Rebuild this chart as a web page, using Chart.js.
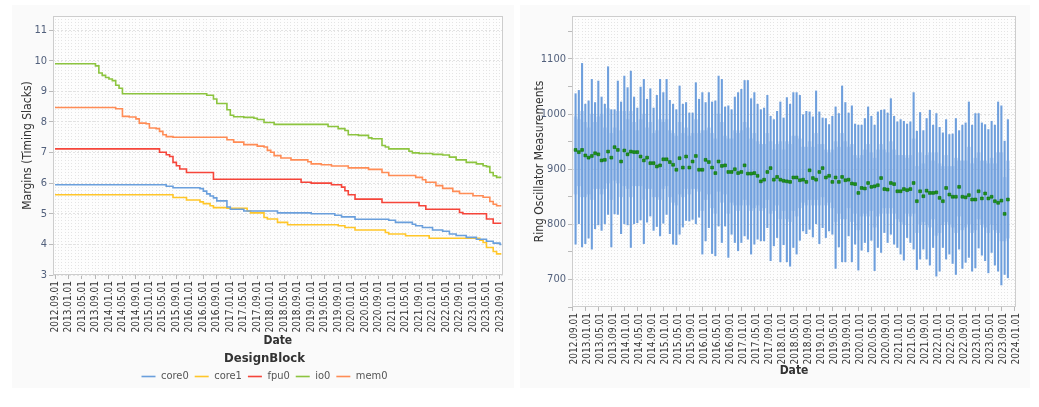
<!DOCTYPE html>
<html>
<head>
<meta charset="utf-8">
<script src="https://cdn.jsdelivr.net/npm/chart.js@4.4.1/dist/chart.umd.min.js"></script>
<style>
  body { margin: 0; background: #fff; width: 1039px; height: 407px; overflow: hidden; }
  .panel { position: absolute; top: 5px; height: 383px; background: #fafafa; }
  #left { left: 12px; width: 502px; }
  #right { left: 520px; width: 510px; }
  canvas { display: block; }
</style>
</head>
<body>
<div class="panel" id="left"><canvas id="margins" width="502" height="383"></canvas></div>
<div class="panel" id="right"><canvas id="ring" width="510" height="383"></canvas></div>
<script>
const FONT = "'DejaVu Sans Condensed', 'DejaVu Sans', sans-serif";

// months are counted from 2012.09
const START_YEAR = 2012, START_MONTH = 9;

const blocks = ['core0', 'core1', 'fpu0', 'io0', 'mem0'];
const blockColors = ['#6a9fdc', '#ffc629', '#f5453a', '#8cc43f', '#ff8c55'];

// step changes: [month, margin]
const core0Steps = [[0,5.95],[33,5.9],[35,5.85],[43,5.82],[44,5.74],[45,5.65],[46,5.58],[47,5.52],[48,5.42],
  [51,5.22],[52,5.15],[56,5.09],[66,5.03],[76,5.0],[83,4.95],[85,4.9],[89,4.82],[99,4.79],[101,4.72],
  [106,4.66],[107,4.61],[109,4.55],[112,4.47],[115,4.43],[117,4.34],[119,4.29],[122,4.23],[125,4.17],
  [128,4.1],[130,4.04],[132,4.0]];
const core1Steps = [[0,5.62],[35,5.53],[39,5.45],[43,5.39],[44,5.33],[46,5.26],[47,5.2],[51,5.18],[57,5.09],
  [58,5.03],[62,4.88],[63,4.83],[66,4.72],[69,4.64],[84,4.61],[86,4.55],[89,4.47],[98,4.39],[99,4.34],
  [104,4.28],[111,4.2],[126,4.14],[127,4.06],[128,3.9],[130,3.77],[131,3.69]];
const fpu0Steps = [[0,7.12],[31,7.01],[33,6.93],[34,6.87],[35,6.68],[36,6.57],[37,6.46],[39,6.35],[47,6.13],
  [73,6.03],[76,6.0],[82,5.95],[85,5.87],[86,5.75],[87,5.62],[89,5.48],[97,5.37],[108,5.26],[110,5.15],
  [120,5.04],[121,5.0],[128,4.83],[130,4.69]];
const io0Steps = [[0,9.9],[12,9.83],[13,9.6],[14,9.52],[15,9.45],[16,9.4],[17,9.35],[18,9.2],[19,9.1],[20,8.92],
  [45,8.87],[47,8.75],[48,8.6],[51,8.4],[52,8.22],[53,8.17],[56,8.15],[59,8.12],[60,8.08],[62,7.98],[65,7.92],
  [81,7.85],[84,7.78],[86,7.72],[87,7.58],[90,7.56],[93,7.48],[94,7.45],[97,7.23],[98,7.18],[99,7.12],
  [105,7.04],[106,6.99],[108,6.97],[112,6.94],[115,6.92],[117,6.85],[119,6.76],[122,6.68],[125,6.63],
  [127,6.57],[128,6.54],[129,6.35],[130,6.24],[131,6.19]];
const mem0Steps = [[0,8.47],[18,8.43],[20,8.18],[22,8.16],[24,8.1],[25,7.96],[27,7.94],[28,7.8],[30,7.78],
  [31,7.69],[32,7.58],[33,7.52],[35,7.5],[51,7.42],[53,7.34],[56,7.26],[60,7.21],[62,7.18],[63,7.07],
  [64,7.01],[65,6.9],[67,6.82],[70,6.76],[75,6.7],[76,6.63],[79,6.6],[82,6.56],[87,6.5],[93,6.45],[97,6.35],
  [99,6.25],[107,6.19],[109,6.11],[110,6.03],[113,5.92],[115,5.83],[118,5.73],[120,5.66],[124,5.59],
  [127,5.54],[129,5.4],[130,5.31],[131,5.26]];
const blockSteps = [core0Steps, core1Steps, fpu0Steps, io0Steps, mem0Steps];
const marginsEnd = 132.4;

// ring oscillator, one box per month from 2012.09 to 2023.10
const ringMean = [935,931,935,925,921,924,929,927,916,917,932,921,940,935,914,934,927,932,931,931,923,916,921,911,
  911,905,907,918,918,913,908,899,920,903,
  923,903,914,924,899,899,917,913,903,893,914,906,907,895,895,900,893,895,907,892,892,893,888,878,881,895,
  902,881,886,881,879,878,877,885,
  885,880,881,877,898,884,881,895,902,885,888,877,885,877,886,880,881,874,873,857,866,865,875,868,869,871,
  884,864,863,875,873,860,860,864,862,
  864,875,842,860,851,861,857,857,858,848,842,866,854,850,850,868,850,849,853,845,845,860,847,856,847,850,
  842,839,843,819,845];
const ringMax = [1037,1043,1092,1018,1024,1063,1021,1060,1031,1018,1086,1008,1008,1060,1022,1069,1048,1078,1031,1011,
  1049,1063,1027,1046,1011,1034,1063,1039,1063,1025,1018,1008,1051,1018,
  1021,1002,1002,1057,1027,1039,1021,1039,1022,1024,1069,1063,1013,1015,1008,1031,1039,1045,1061,1061,1028,
  1039,1018,1008,1011,1034,996,990,1005,1022,993,1030,1018,1039,
  1039,1034,999,1005,1004,995,1042,1004,993,992,981,996,1013,1001,1051,1021,1002,1015,982,980,980,992,1013,
  996,980,1004,1007,1008,1002,1028,996,986,990,987,982,
  986,1039,969,1003,970,992,1007,980,1001,976,966,990,963,964,992,970,980,984,1022,980,1001,1001,984,981,
  972,987,980,1022,1015,951,990];
const ringMin = [764,801,759,765,775,755,792,799,789,801,818,759,819,818,783,801,799,758,801,803,808,765,804,815,
  789,796,779,802,818,783,764,763,782,795,
  807,806,809,801,813,746,770,794,747,743,797,767,797,740,782,767,752,767,779,773,746,764,773,770,770,794,
  734,761,776,732,763,732,724,758,
  746,771,788,783,791,777,801,765,794,776,788,782,720,759,732,732,779,732,764,717,753,767,750,771,716,758,
  749,785,767,782,764,758,746,735,776,
  767,755,718,737,755,737,726,758,706,715,758,737,746,729,709,755,720,731,740,715,721,757,744,734,712,749,
  726,715,690,709,703];
const ringQ3 = [995,990,1005,985,975,1000,985,995,1000,975,1010,965,975,1005,970,1005,990,1005,985,970,990,1000,975,985,
  965,970,990,985,990,970,965,960,985,965,
  975,960,965,990,965,970,970,975,965,955,1000,985,960,955,955,970,965,970,985,975,955,965,950,945,945,965,
  950,935,945,950,935,950,945,960,
  960,955,940,940,950,940,965,945,945,935,930,935,950,940,965,950,940,945,925,920,925,935,945,930,920,935,
  945,935,930,950,935,925,925,925,920,
  925,955,905,930,910,925,930,915,930,910,905,925,905,905,920,915,915,915,940,910,920,930,915,915,910,920,
  910,930,930,885,915];
const ringQ1 = [855,870,850,850,855,845,865,865,855,865,875,845,880,875,850,870,865,850,870,870,870,845,865,865,
  850,850,845,865,870,850,840,835,855,850,
  865,855,865,865,860,825,845,855,830,820,860,840,855,820,840,835,825,835,845,835,825,830,835,825,830,845,
  820,825,835,810,825,810,805,825,
  815,830,840,835,845,835,845,835,850,835,840,830,805,820,810,810,830,805,820,790,815,820,815,825,795,815,
  820,830,820,830,820,810,805,800,820,
  815,820,785,800,805,800,795,810,780,785,800,805,800,795,785,815,790,795,800,785,790,810,800,795,785,800,
  790,785,770,770,775];

function monthLabel(m) {
  const idx = START_MONTH - 1 + m;
  const y = START_YEAR + Math.floor(idx / 12);
  const mo = idx % 12 + 1;
  return y + '.' + String(mo).padStart(2, '0') + '.01';
}

function monthTicks(last) {
  const t = [];
  for (let m = 0; m <= last; m++) t.push({ value: m });
  return t;
}

function valueTicks(from, to, step) {
  const t = [];
  for (let v = from; v <= to + 1e-9; v += step) t.push({ value: Math.round(v * 100) / 100 });
  return t;
}

// plot area background + frame
const frame = {
  id: 'frame',
  beforeDraw(chart) {
    const { ctx, chartArea: a } = chart;
    ctx.save();
    ctx.fillStyle = '#fdfdfd';
    ctx.fillRect(a.left, a.top, a.width, a.height);
    ctx.restore();
  },
  afterDraw(chart) {
    const { ctx, chartArea: a } = chart;
    ctx.save();
    ctx.strokeStyle = '#cdcdcd';
    ctx.lineWidth = 1;
    ctx.strokeRect(Math.round(a.left) + 0.5, Math.round(a.top) + 0.5, Math.round(a.width) - 1, Math.round(a.height) - 1);
    ctx.restore();
  }
};

function dateAxis(min, max, last, height) {
  return {
    type: 'linear', min: min, max: max, offset: false,
    afterBuildTicks: s => { s.ticks = monthTicks(last); },
    afterFit: s => { s.height = height; },
    ticks: {
      autoSkip: false, minRotation: 90, maxRotation: 90, padding: 2,
      font: { family: FONT, size: 10 }, color: '#333',
      callback: v => (v % 4 === 0 ? monthLabel(v) : '')
    },
    grid: {
      color: '#e4e4e4', tickLength: 4,
      tickColor: c => (c.tick && c.tick.value % 4 === 0 ? '#b8b8b8' : 'rgba(0,0,0,0)')
    },
    border: { display: false, dash: [1, 2] },
    title: {
      display: true, text: 'Date', color: '#333',
      font: { family: FONT, size: 12, weight: 'bold' }, padding: { top: 4, bottom: 2 }
    }
  };
}

Chart.defaults.font.family = FONT;

new Chart(document.getElementById('margins'), {
  type: 'line',
  data: {
    datasets: blocks.map((name, i) => {
      const steps = blockSteps[i];
      const pts = steps.map(([m, v]) => ({ x: m, y: v }));
      pts.push({ x: marginsEnd, y: steps[steps.length - 1][1] });
      return {
        label: name, data: pts, stepped: true,
        borderColor: blockColors[i], backgroundColor: blockColors[i],
        borderWidth: 1.6, pointRadius: 0, fill: false
      };
    })
  },
  options: {
    responsive: false, animation: false,
    layout: { padding: { top: 11, right: 6, left: 9, bottom: -4 } },
    scales: {
      x: dateAxis(-0.6, 132.8, 132, 75),
      y: {
        min: 3, max: 11.46,
        afterBuildTicks: s => { s.ticks = valueTicks(3, 11, 0.5); },
        afterFit: s => { s.width = 32; },
        ticks: {
          font: { family: FONT, size: 11 }, color: '#52607c', padding: 2,
          callback: v => (Number.isInteger(v) ? v : '')
        },
        grid: {
          color: c => (c.tick && Number.isInteger(c.tick.value) ? '#e2e2e2' : 'rgba(0,0,0,0)'),
          tickColor: '#bbb', tickLength: 4
        },
        border: { display: false, dash: [2, 2] },
        title: {
          display: true, text: 'Margins (Timing Slacks)', color: '#333',
          font: { family: FONT, size: 12 }, padding: { top: 0, bottom: 2 }
        }
      }
    },
    plugins: {
      tooltip: { enabled: false },
      legend: {
        position: 'bottom',
        title: {
          display: true, text: 'DesignBlock', color: '#333',
          font: { family: FONT, size: 13, weight: 'bold', lineHeight: 1 }, padding: { top: 2, bottom: 0 }
        },
        labels: {
          usePointStyle: true, pointStyle: 'line', pointStyleWidth: 14, boxHeight: 10,
          padding: 6, color: '#555', font: { family: FONT, size: 11 }
        }
      }
    }
  },
  plugins: [frame]
});

new Chart(document.getElementById('ring'), {
  type: 'bar',
  data: {
    datasets: [
      {
        type: 'line', label: 'mean', showLine: false,
        data: ringMean.map((v, i) => ({ x: i + 0.5, y: v })),
        pointStyle: 'rect', pointRadius: 2,
        pointBackgroundColor: '#1c931c', pointBorderColor: '#0c6e0c', pointBorderWidth: 0.6,
        order: 1
      },
      {
        label: 'box',
        data: ringQ1.map((v, i) => ({ x: i + 0.5, y: [v, ringQ3[i]] })),
        backgroundColor: 'rgba(120,165,225,0.45)', barThickness: 3, grouped: false,
        order: 2
      },
      {
        label: 'range',
        data: ringMin.map((v, i) => ({ x: i + 0.5, y: [v, ringMax[i]] })),
        backgroundColor: '#6d9edc', barThickness: 1.4, grouped: false,
        order: 3
      }
    ]
  },
  options: {
    responsive: false, animation: false,
    layout: { padding: { top: 11, right: 14, left: 13, bottom: 8 } },
    scales: {
      x: dateAxis(-0.6, 136, 136, 73),
      y: {
        min: 650, max: 1178,
        afterBuildTicks: s => { s.ticks = valueTicks(650, 1150, 50); },
        afterFit: s => { s.width = 39; },
        ticks: {
          font: { family: FONT, size: 11 }, color: '#52607c', padding: 2,
          callback: v => (v % 100 === 0 ? v : '')
        },
        grid: {
          color: c => (c.tick && c.tick.value % 100 === 0 ? '#e2e2e2' : 'rgba(0,0,0,0)'),
          tickColor: '#bbb', tickLength: 4
        },
        border: { display: false, dash: [2, 2] },
        title: {
          display: true, text: 'Ring Oscillator Measurements', color: '#333',
          font: { family: FONT, size: 12 }, padding: { top: 0, bottom: 2 }
        }
      }
    },
    plugins: { tooltip: { enabled: false }, legend: { display: false } }
  },
  plugins: [frame]
});
</script>
</body>
</html>
